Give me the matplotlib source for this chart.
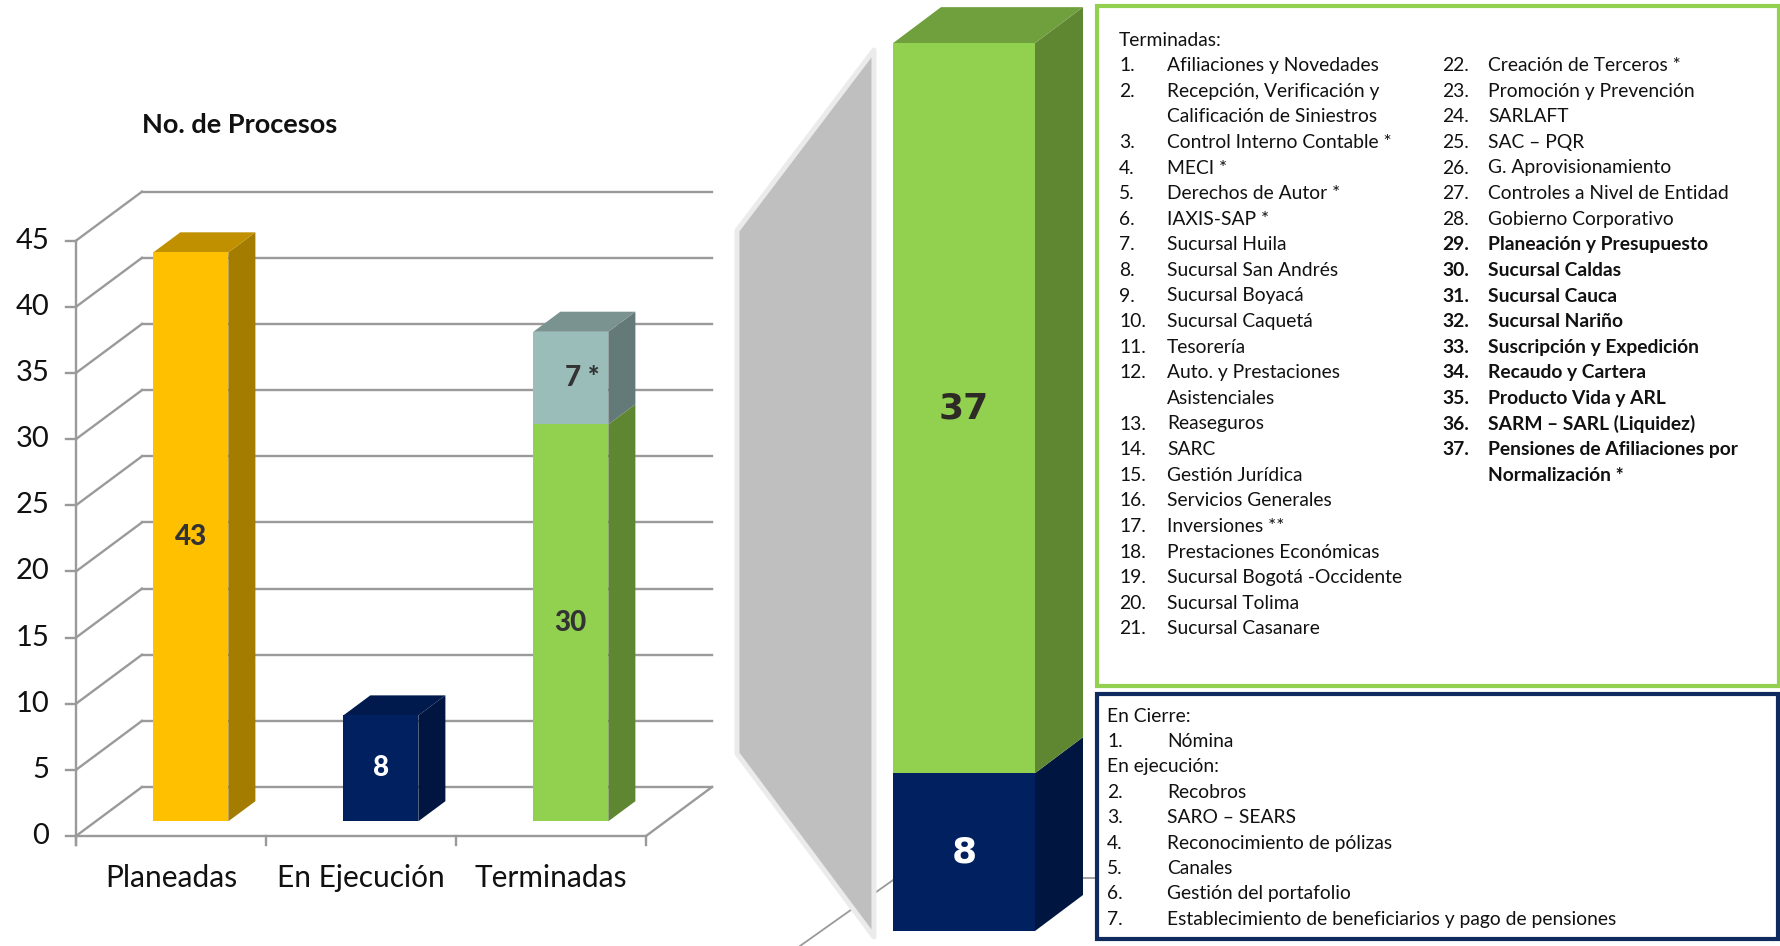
import numpy as np
import matplotlib
matplotlib.use("Agg")
import matplotlib.pyplot as plt
from matplotlib.patches import Polygon, Rectangle

W, H, DPI = 1781, 946, 100

# ---- data ----
categories = ["Planeadas", "En Ejecución", "Terminadas"]
base_vals = [43, 8, 30]
top_vals = [0, 0, 7]
base_labels = ["43", "8", "30"]
top_labels = ["", "", "7 *"]
yticks = list(range(0, 50, 5))

zoom_vals = [8, 37]          # stacked detail bar: en ejecución / terminadas
zoom_labels = ["8", "37"]

term_col1 = ["Afiliaciones y Novedades",
             "Recepción, Verificación y\nCalificación de Siniestros",
             "Control Interno Contable *", "MECI *", "Derechos de Autor *",
             "IAXIS-SAP *", "Sucursal Huila", "Sucursal San Andrés",
             "Sucursal Boyacá", "Sucursal Caquetá", "Tesorería",
             "Auto. y Prestaciones\nAsistenciales", "Reaseguros", "SARC",
             "Gestión Jurídica", "Servicios Generales", "Inversiones **",
             "Prestaciones Económicas", "Sucursal Bogotá -Occidente",
             "Sucursal Tolima", "Sucursal Casanare"]
term_col2 = ["Creación de Terceros *", "Promoción y Prevención", "SARLAFT",
             "SAC – PQR", "G. Aprovisionamiento", "Controles a Nivel de Entidad",
             "Gobierno Corporativo", "Planeación y Presupuesto",
             "Sucursal Caldas", "Sucursal Cauca", "Sucursal Nariño",
             "Suscripción y Expedición", "Recaudo y Cartera",
             "Producto Vida y ARL", "SARM – SARL (Liquidez)",
             "Pensiones de Afiliaciones por\nNormalización *"]
bold_from = 29
cierre_items = ["Nómina"]
ejec_items = ["Recobros", "SARO – SEARS", "Reconocimiento de pólizas",
              "Canales", "Gestión del portafolio",
              "Establecimiento de beneficiarios y pago de pensiones"]

# ---- colours ----
yellow = ("#FFC000", "#A37C00", "#C09000")
navy = ("#002060", "#00153F", "#001A4D")
green = ("#92D050", "#5F8732", "#709F3E")
teal = ("#9BBDBA", "#647A78", "#7A9290")
grid_c = "#9A9A9A"
txt_c = "#111111"
FONT = ["Lato", "DejaVu Sans"]

plt.rcParams["font.family"] = FONT
fig = plt.figure(figsize=(W / DPI, H / DPI), dpi=DPI)
fig.patch.set_facecolor("white")


def box3d(ax, x0, x1, y0, y1, ddx, ddy, cols, draw_top=True, z=3):
    front, side, top = cols
    ax.add_patch(Polygon([(x1, y0), (x1 + ddx, y0 + ddy), (x1 + ddx, y1 + ddy), (x1, y1)],
                         closed=True, fc=side, ec="none", zorder=z))
    if draw_top:
        ax.add_patch(Polygon([(x0, y1), (x0 + ddx, y1 + ddy), (x1 + ddx, y1 + ddy), (x1, y1)],
                             closed=True, fc=top, ec="none", zorder=z))
    ax.add_patch(Rectangle((x0, y0), x1 - x0, y1 - y0, fc=front, ec="none", zorder=z + 0.1))


# ===== left 3D column chart =====
PXX, PXY = 190.0, 13.23           # px per category, px per unit
ax = fig.add_axes([0, 0, 760 / W, 1])
ax.set_xlim(-76 / PXX, (760 - 76) / PXX)
ax.set_ylim(-110 / PXY, (H - 110) / PXY)
ax.axis("off")

DX, DY = 66 / PXX, 49 / PXY       # wall depth
d0, bd, bw = 0.30, 0.41, 0.395     # bar front depth, bar depth, bar width
n = len(categories)
lw = 1.7
for v in yticks:
    ax.plot([0, DX], [v, v + DY], color=grid_c, lw=lw, zorder=1)
    ax.plot([DX, n + DX], [v + DY, v + DY], color=grid_c, lw=lw, zorder=1)
    ax.plot([-0.055, 0], [v, v], color=grid_c, lw=lw, zorder=1)
    ax.text(-0.14, v, str(v), ha="right", va="center", fontsize=21, color=txt_c)
ax.plot([0, 0], [-0.7, yticks[-1]], color=grid_c, lw=lw, zorder=1)
ax.plot([0, n], [0, 0], color=grid_c, lw=lw, zorder=1)
ax.plot([n, n + DX], [0, DY], color=grid_c, lw=lw, zorder=1)
for i in range(n + 1):
    ax.plot([i, i], [0, -0.7], color=grid_c, lw=lw, zorder=1)

for i, cat in enumerate(categories):
    cx = i + 0.5 + DX * d0
    x0, x1 = cx - bw / 2, cx + bw / 2
    yb = DY * d0
    b, t = base_vals[i], top_vals[i]
    cols = [yellow, navy, green][i]
    box3d(ax, x0, x1, yb, yb + b, DX * bd, DY * bd, cols, draw_top=(t == 0))
    lab_c = "white" if i == 1 else "#333333"
    ax.text(cx, yb + b / 2, base_labels[i], ha="center", va="center",
            fontsize=20, fontweight="black", color=lab_c, zorder=6)
    if t:
        box3d(ax, x0, x1, yb + b, yb + b + t, DX * bd, DY * bd, teal)
        ax.text(cx + 0.06, yb + b + t / 2, top_labels[i], ha="center", va="center",
                fontsize=20, fontweight="black", color="#333333", zorder=6)
    ax.text(i + 0.5, -3.2, cat, ha="center", va="center", fontsize=21.5, color=txt_c)

ax.text(66 / PXX, (836 - 125) / PXY, "No. de Procesos", ha="left", va="center",
        fontsize=19.5, fontweight="bold", color=txt_c)

# ===== detail stacked bar =====
BX, BY = 142.0, 19.73
axb = fig.add_axes([720 / W, 0, 377 / W, 1])
axb.set_xlim((720 - 893) / BX, (1097 - 893) / BX)
axb.set_ylim(-15 / BY, 931 / BY)
axb.axis("off")
axb.plot([-0.655, 0], [-0.76, 2.58], color=grid_c, lw=1.3, zorder=0)
axb.plot([1.34, 1.44], [2.69, 2.69], color=grid_c, lw=1.3, zorder=0)
connector = [(-1.099, 35.5), (-0.134, 44.65), (-0.134, -0.3), (-1.099, 9.0)]
axb.add_patch(Polygon(connector, closed=True, fc="#BFBFBF", ec="#EBEBEB",
                      lw=3.6, joinstyle="round", zorder=1))
bdx, bdy = 48 / BX, 36 / BY
bottom = 0
for k, (v, lab) in enumerate(zip(zoom_vals, zoom_labels)):
    cols = navy if k == 0 else green
    box3d(axb, 0, 1, bottom, bottom + v, bdx, bdy, cols, draw_top=(k == len(zoom_vals) - 1))
    axb.text(0.5, bottom + v / 2, lab, ha="center", va="center", fontsize=26,
             fontweight="bold", family="DejaVu Sans",
             color="white" if k == 0 else "#2E2A25", zorder=6)
    bottom += v

# ===== list boxes =====
def fx(px):
    return px / W


def fy(py):
    return 1 - py / H


fig.patches.append(Rectangle((fx(1097), fy(686)), (1779 - 1097) / W, (686 - 6) / H,
                             transform=fig.transFigure, fc="white", ec="#92D050", lw=3))
fig.patches.append(Rectangle((fx(1097), fy(939)), (1778 - 1097) / W, (939 - 694) / H,
                             transform=fig.transFigure, fc="white", ec="#0F2A5E", lw=3))

FS = 13.9
STEP = 25.6


def put(px, py, s, bold=False):
    fig.text(fx(px), fy(py), s, ha="left", va="center", fontsize=FS,
             fontweight="bold" if bold else "normal", color=txt_c)


def write_list(items, start_num, x_num, x_txt, y0, step):
    line = 0
    for j, it in enumerate(items):
        num = start_num + j
        bold = num >= bold_from
        put(x_num, y0 + line * step, f"{num}.", bold)
        for part in it.split("\n"):
            put(x_txt, y0 + line * step, part, bold)
            line += 1
    return line


put(1119, 40, "Terminadas:")
write_list(term_col1, 1, 1119, 1167, 40 + STEP, STEP)
write_list(term_col2, len(term_col1) + 1, 1442, 1488, 40 + STEP, STEP)

STEP2 = 25.4
put(1107, 716, "En Cierre:")
write_list(cierre_items, 1, 1107, 1167, 716 + STEP2, STEP2)
put(1107, 716 + 2 * STEP2, "En ejecución:")
write_list(ejec_items, 2, 1107, 1167, 716 + 3 * STEP2, STEP2)

fig.savefig("out.png", dpi=DPI)
